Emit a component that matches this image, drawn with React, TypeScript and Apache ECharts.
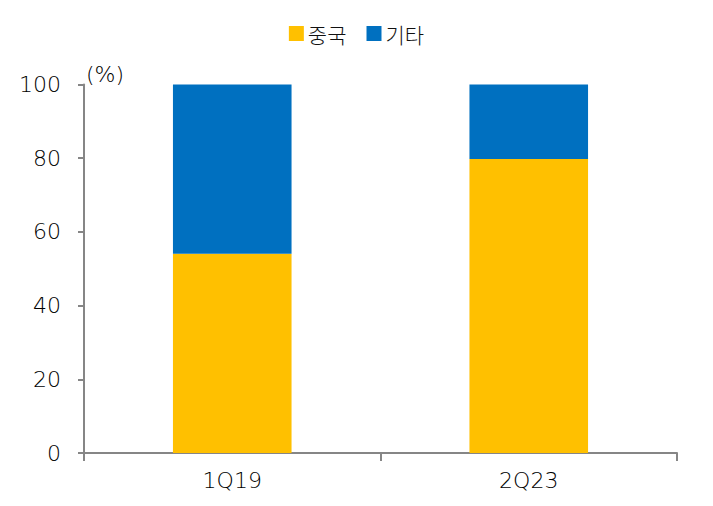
import React, { useEffect, useRef } from "react";
import * as echarts from "echarts";

const categories = ["1Q19", "2Q23"];
const chinaValues = [54.1, 79.8];
const otherValues = [45.9, 20.2];
const seriesNames = ["중국", "기타"];

const FONT = "'DejaVu Sans', 'Noto Sans CJK KR', sans-serif";
const KFONT = "'Noto Sans CJK KR', sans-serif";
const W = 200;
const TXT = "#000";

export default function App() {
  const ref = useRef<HTMLDivElement>(null);
  useEffect(() => {
    if (!ref.current) return;
    const chart = echarts.init(ref.current, null, { renderer: "svg" });
    chart.setOption({
      animation: false,
      textStyle: { fontFamily: FONT },
      legend: {
        top: 10,
        left: "center",
        itemWidth: 15,
        itemHeight: 15,
        itemGap: 20,
        icon: "rect",
        textStyle: { fontSize: 21, color: "#111", fontFamily: KFONT, fontWeight: 300, padding: [0, 0, 0, -1] },
        data: seriesNames,
      },
      grid: { left: 76, right: 28, top: 76.5, bottom: 45, containLabel: false },
      xAxis: {
        type: "category",
        data: categories,
        axisLine: { lineStyle: { color: "#868686", width: 2 } },
        axisTick: { show: true, length: 8, lineStyle: { color: "#868686", width: 2 } },
        axisLabel: { fontSize: 22, color: TXT, margin: 16, fontFamily: FONT, fontWeight: W },
      },
      yAxis: {
        type: "value",
        min: 0,
        max: 100,
        interval: 20,
        name: "(%)",
        nameLocation: "end",
        nameGap: -1,
        nameTextStyle: { fontSize: 22, color: TXT, align: "left", verticalAlign: "bottom", padding: [0, 0, 0, 2], fontFamily: FONT, fontWeight: W },
        axisLine: { show: true, lineStyle: { color: "#868686", width: 2 } },
        axisTick: { show: true, length: 6, lineStyle: { color: "#868686", width: 2 } },
        splitLine: { show: false },
        axisLabel: { fontSize: 22, color: TXT, margin: 23, fontFamily: FONT, fontWeight: W },
      },
      series: [
        {
          name: seriesNames[0],
          type: "bar",
          stack: "total",
          barWidth: "40%",
          data: chinaValues,
          itemStyle: { color: "#FFC000" },
        },
        {
          name: seriesNames[1],
          type: "bar",
          stack: "total",
          barWidth: "40%",
          data: otherValues,
          itemStyle: { color: "#0070C0" },
        },
      ],
    });
    return () => chart.dispose();
  }, []);
  return <div ref={ref} style={{ width: 697, height: 490 }} />;
}
